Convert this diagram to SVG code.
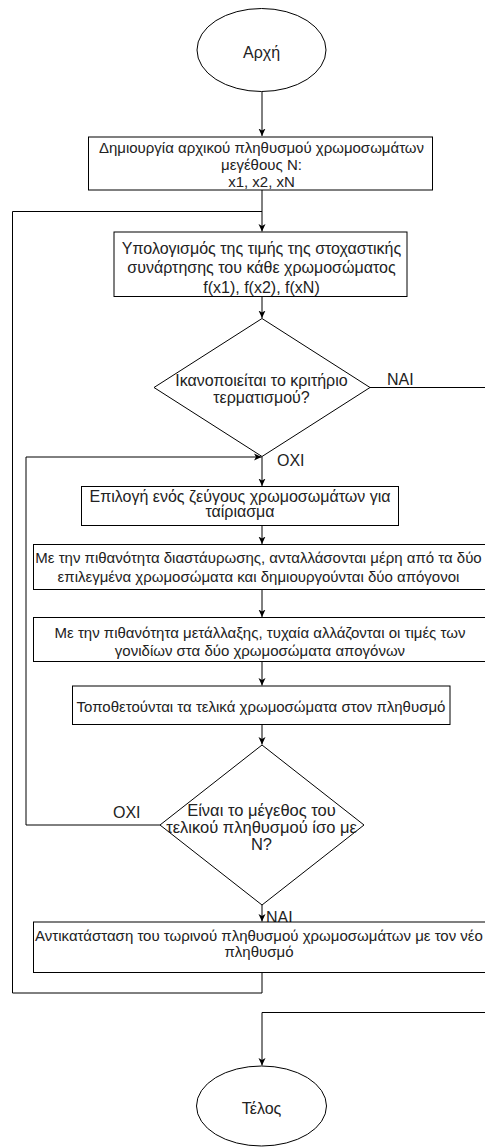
<svg xmlns="http://www.w3.org/2000/svg" width="485" height="1147" viewBox="0 0 485 1147">
<defs>
<marker id="arr" markerWidth="8" markerHeight="8" refX="7.5" refY="4" orient="auto" markerUnits="userSpaceOnUse">
<path d="M0,0.5 L7.5,4 L0,7.5 L2,4 Z" fill="#000"/>
</marker>
<style>
.n{fill:#fff;stroke:#000;stroke-width:1}
.t{font-family:"Liberation Sans",Arial,sans-serif;font-size:15px;fill:#222;text-anchor:middle;dominant-baseline:central}
.l{font-family:"Liberation Sans",Arial,sans-serif;font-size:16px;fill:#222;dominant-baseline:central}
.c{fill:none;stroke:#000;stroke-width:1}
.s16{font-size:16px}
.s165{font-size:16.5px}
</style>
</defs>
<rect width="485" height="1147" fill="#fff"/>
<g id="connectors">
<path class="c" d="M262,91.5 V136" marker-end="url(#arr)"/>
<path class="c" d="M262,190 V231.5" marker-end="url(#arr)"/>
<path class="c" d="M262,296.5 V318" marker-end="url(#arr)"/>
<path class="c" d="M262,456.5 V486" marker-end="url(#arr)"/>
<path class="c" d="M262,525.5 V544" marker-end="url(#arr)"/>
<path class="c" d="M262,589.5 V617" marker-end="url(#arr)"/>
<path class="c" d="M262,661.5 V685.5" marker-end="url(#arr)"/>
<path class="c" d="M262,724.5 V744.5" marker-end="url(#arr)"/>
<path class="c" d="M262,905 V921.5" marker-end="url(#arr)"/>
<path class="c" d="M160,825 H26 V457 H261.5" marker-end="url(#arr)"/>
<path class="c" d="M262,972.5 V993 H12.5 V211.5 H262"/>
<path class="c" d="M370,387.5 H492 V1012.5 H262 V1065.5" marker-end="url(#arr)"/>
<text class="l" x="387" y="379">NAI</text>
<text class="l" x="277" y="460">OXI</text>
<text class="l" x="113" y="812">OXI</text>
<text class="l" x="266" y="917">NAI</text>
</g>
<g id="start">
<ellipse class="n" cx="261.5" cy="50" rx="64.5" ry="41.5"/>
<text class="t s16" x="261.5" y="52">Αρχή</text>
</g>
<g id="init">
<rect class="n" x="88.5" y="137" width="344" height="53"/>
<text class="t" x="261.5" y="147.5">Δημιουργία αρχικού πληθυσμού χρωμοσωμάτων</text>
<text class="t" x="261.5" y="164.5">μεγέθους N:</text>
<text class="t" x="261.5" y="181.5">x1, x2, xN</text>
</g>
<g id="fitness">
<rect class="n" x="114" y="232" width="293" height="64.5"/>
<text class="t s16" x="261.5" y="248">Υπολογισμός της τιμής της στοχαστικής</text>
<text class="t s16" x="261.5" y="267.5">συνάρτησης του κάθε χρωμοσώματος</text>
<text class="t s16" x="261.5" y="287">f(x1), f(x2), f(xN)</text>
</g>
<g id="check-termination">
<polygon class="n" points="262,318.5 370,387.5 262,456.5 154,387.5"/>
<text class="t s16" x="261.5" y="380">Ικανοποιείται το κριτήριο</text>
<text class="t s16" x="261.5" y="397">τερματισμού?</text>
</g>
<g id="select">
<rect class="n" x="81.5" y="486.5" width="317" height="39"/>
<text class="t s16" x="240" y="496">Επιλογή ενός ζεύγους χρωμοσωμάτων για</text>
<text class="t s16" x="240" y="511">ταίριασμα</text>
</g>
<g id="crossover">
<rect class="n" x="33.5" y="544.5" width="458" height="45"/>
<text class="t" x="258.5" y="557">Με την πιθανότητα διαστάυρωσης, ανταλλάσονται μέρη από τα δύο</text>
<text class="t" x="258.5" y="576">επιλεγμένα χρωμοσώματα και δημιουργούνται δύο απόγονοι</text>
</g>
<g id="mutation">
<rect class="n" x="33.5" y="617.5" width="458" height="44"/>
<text class="t" x="260" y="632.5">Με την πιθανότητα μετάλλαξης, τυχαία αλλάζονται οι τιμές των</text>
<text class="t" x="260" y="650">γονιδίων στα δύο χρωμοσώματα απογόνων</text>
</g>
<g id="place">
<rect class="n" x="72.5" y="686" width="377.5" height="38.5"/>
<text class="t" x="261" y="706">Τοποθετούνται τα τελικά χρωμοσώματα στον πληθυσμό</text>
</g>
<g id="check-size">
<polygon class="n" points="262,745 364,825 262,905 160,825"/>
<text class="t s165" x="261.5" y="810">Είναι το μέγεθος του</text>
<text class="t s165" x="261.5" y="827">τελικού πληθυσμού ίσο με</text>
<text class="t s165" x="261.5" y="844">N?</text>
</g>
<g id="replace">
<rect class="n" x="33.5" y="922" width="458" height="50.5"/>
<text class="t" x="259" y="935">Αντικατάσταση του τωρινού πληθυσμού χρωμοσωμάτων με τον νέο</text>
<text class="t" x="259" y="951">πληθυσμό</text>
</g>
<g id="end">
<ellipse class="n" cx="261.5" cy="1106" rx="65" ry="40"/>
<text class="t s16" x="261.5" y="1108">Τέλος</text>
</g>
</svg>
